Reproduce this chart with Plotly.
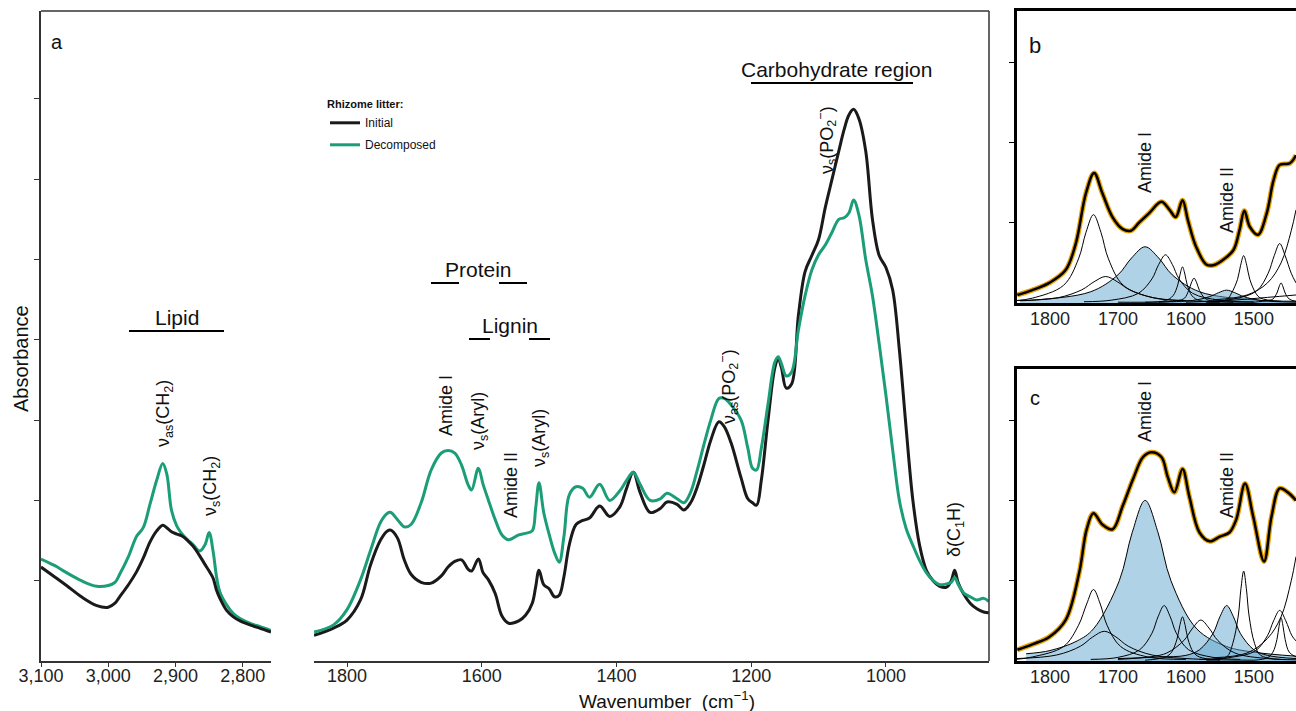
import plotly.graph_objects as go

W, H = 1296, 711
FONT = "Liberation Sans, Arial, sans-serif"
BLACK = "#1a1a1a"
GREEN = "#1b9e77"
ORANGE = "#E69F00"
FILL = "rgba(95,165,205,0.50)"

# ---------------- Panel a: lipid region (Absorbance, arbitrary units) ----------------
wn_lipid = [3100, 3080, 3062, 3040, 3017, 3000, 2990, 2983, 2970, 2958, 2948, 2938, 2928,
            2919, 2913, 2906, 2898, 2891, 2882, 2874, 2864, 2856, 2850, 2844, 2839, 2834,
            2824, 2814, 2804, 2786, 2775, 2758]
init_lipid = [1.17, 1.05, 0.94, 0.80, 0.69, 0.67, 0.72, 0.80, 0.95, 1.11, 1.28, 1.48, 1.62,
              1.69, 1.66, 1.61, 1.58, 1.56, 1.50, 1.43, 1.31, 1.20, 1.12, 1.03, 0.88, 0.78,
              0.63, 0.55, 0.50, 0.44, 0.41, 0.36]
decomp_lipid = [1.27, 1.19, 1.10, 1.00, 0.93, 0.94, 0.98, 1.08, 1.30, 1.55, 1.66, 1.95, 2.25,
                2.46, 2.33, 1.88, 1.68, 1.59, 1.51, 1.45, 1.37, 1.45, 1.60, 1.36, 1.05, 0.86,
                0.70, 0.59, 0.53, 0.46, 0.43, 0.38]

# ---------------- Panel a: fingerprint region ----------------
wn_fp = [1849, 1820, 1800, 1780, 1765, 1750, 1740, 1735, 1725, 1715, 1705, 1690, 1675, 1660,
         1650, 1640, 1630, 1620, 1615, 1605, 1598, 1590, 1580, 1570, 1560, 1545, 1535, 1525,
         1520, 1515, 1508, 1500, 1492, 1485, 1478, 1470, 1460, 1450, 1440, 1425, 1410, 1395,
         1385, 1375, 1365, 1350, 1335, 1325, 1310, 1300, 1290, 1280, 1270, 1260, 1248, 1240,
         1230, 1215, 1205, 1198, 1192, 1185, 1175, 1165, 1160, 1155, 1148, 1140, 1130, 1120,
         1110, 1100, 1090, 1080, 1070, 1062, 1055, 1048, 1040, 1030, 1020, 1010, 1000, 990,
         980, 970, 960, 950, 940, 930, 920, 910, 903, 898, 893, 885, 875, 865, 855, 847]
init_fp = [0.32, 0.41, 0.51, 0.76, 1.20, 1.51, 1.62, 1.63, 1.53, 1.26, 1.08, 0.98, 0.97, 1.06,
           1.17, 1.24, 1.26, 1.14, 1.12, 1.27, 1.10, 1.01, 0.84, 0.56, 0.47, 0.50, 0.57, 0.72,
           0.92, 1.13, 0.95, 0.90, 0.80, 0.82, 1.05, 1.45, 1.70, 1.75, 1.78, 1.93, 1.80, 1.92,
           2.15, 2.35, 2.10, 1.85, 1.90, 1.98, 1.95, 1.88, 1.97, 2.17, 2.45, 2.75, 2.98, 2.92,
           2.72, 2.28, 2.02, 1.97, 1.94, 2.25, 3.00, 3.65, 3.77, 3.65, 3.40, 3.45, 4.30, 4.85,
           5.05, 5.25, 5.65, 6.00, 6.35, 6.62, 6.80, 6.87, 6.75, 6.35, 5.50, 5.05, 4.90, 4.62,
           3.87, 2.90, 2.00, 1.44, 1.13, 1.00, 0.93, 0.92, 1.00, 1.13, 0.98, 0.84, 0.72, 0.65,
           0.61, 0.60]
decomp_fp = [0.36, 0.45, 0.64, 1.01, 1.38, 1.73, 1.84, 1.85, 1.76, 1.67, 1.70, 1.97, 2.38, 2.59,
             2.62, 2.59, 2.44, 2.19, 2.13, 2.40, 2.20, 2.00, 1.76, 1.57, 1.51, 1.57, 1.59, 1.62,
             1.90, 2.22, 1.85, 1.58, 1.35, 1.23, 1.55, 2.07, 2.17, 2.15, 2.04, 2.20, 2.00, 2.12,
             2.25, 2.35, 2.20, 2.00, 2.02, 2.09, 2.02, 1.97, 2.10, 2.38, 2.70, 3.00, 3.27, 3.27,
             3.19, 3.00, 2.65, 2.40, 2.38, 2.65, 3.20, 3.72, 3.79, 3.70, 3.55, 3.60, 4.12, 4.55,
             4.87, 5.06, 5.18, 5.34, 5.50, 5.52, 5.58, 5.74, 5.55, 5.00, 4.55, 3.95, 3.31, 2.63,
             2.00, 1.65, 1.44, 1.25, 1.10, 1.00, 0.95, 0.96, 0.98, 1.04, 0.96, 0.85, 0.80, 0.76,
             0.78, 0.74]

# ---------------- Panel b: baseline-corrected initial spectrum and its bands ----------------
wn_b = [1848, 1826, 1801, 1777, 1762, 1747, 1735, 1723, 1708, 1693, 1681, 1669, 1654, 1636,
        1624, 1615, 1605, 1597, 1585, 1570, 1560, 1545, 1530, 1521, 1514, 1506, 1494, 1481,
        1471, 1462, 1447, 1438]
init_b = [0.10, 0.16, 0.25, 0.41, 0.74, 1.37, 1.62, 1.37, 1.07, 0.92, 0.90, 1.00, 1.12, 1.26,
          1.16, 1.07, 1.28, 1.03, 0.70, 0.48, 0.47, 0.54, 0.66, 0.91, 1.15, 0.95, 0.85, 1.12,
          1.53, 1.72, 1.74, 1.84]
b_amide1_x = [1844, 1820, 1740, 1700, 1680, 1660, 1640, 1620, 1580, 1500, 1438]
b_amide1_y = [0.028, 0.039, 0.14, 0.35, 0.56, 0.70, 0.56, 0.35, 0.14, 0.039, 0.022]
b_amide2_x = [1700, 1640, 1590, 1565, 1552, 1540, 1528, 1515, 1490, 1438]
b_amide2_y = [0.01, 0.012, 0.032, 0.08, 0.128, 0.16, 0.128, 0.08, 0.032, 0.01]
b_1736_x = [1850, 1826, 1780, 1758, 1747, 1736, 1725, 1714, 1692, 1648, 1600]
b_1736_y = [0.03, 0.06, 0.22, 0.55, 0.88, 1.10, 0.88, 0.55, 0.22, 0.065, 0.03]
b_1718_x = [1850, 1788, 1753, 1735, 1718, 1701, 1683, 1648, 1588, 1500]
b_1718_y = [0.03, 0.066, 0.165, 0.265, 0.33, 0.265, 0.165, 0.066, 0.023, 0.01]
b_1630_x = [1750, 1710, 1670, 1650, 1640, 1630, 1620, 1610, 1590, 1550, 1500]
b_1630_y = [0.016, 0.035, 0.12, 0.30, 0.48, 0.60, 0.48, 0.30, 0.12, 0.035, 0.014]
b_1605_x = [1660, 1630, 1619, 1612, 1608.5, 1605, 1601.5, 1598, 1591, 1580, 1550]
b_1605_y = [0.01, 0.03, 0.09, 0.225, 0.36, 0.45, 0.36, 0.225, 0.09, 0.03, 0.01]
b_1588_x = [1640, 1612, 1602, 1596, 1592, 1588, 1584, 1580, 1572, 1564, 1530]
b_1588_y = [0.01, 0.03, 0.06, 0.155, 0.25, 0.31, 0.25, 0.155, 0.06, 0.03, 0.01]
b_1515_x = [1570, 1540, 1533, 1524, 1519.5, 1515, 1510.5, 1506, 1497, 1490, 1460]
b_1515_y = [0.01, 0.04, 0.12, 0.295, 0.47, 0.59, 0.47, 0.295, 0.12, 0.06, 0.02]
b_1462_x = [1580, 1530, 1496, 1479, 1470, 1462, 1454, 1445, 1438]
b_1462_y = [0.02, 0.05, 0.15, 0.37, 0.59, 0.74, 0.59, 0.37, 0.25]
b_1460_x = [1500, 1480, 1472, 1466, 1463, 1460, 1457, 1454, 1448, 1438]
b_1460_y = [0.01, 0.03, 0.05, 0.125, 0.20, 0.25, 0.20, 0.125, 0.05, 0.02]
b_1420_x = [1560, 1510, 1480, 1460, 1445, 1438]
b_1420_y = [0.04, 0.10, 0.25, 0.50, 0.90, 1.16]
b_broad_x = [1600, 1540, 1480, 1438]
b_broad_y = [0.01, 0.03, 0.07, 0.10]

# ---------------- Panel c: baseline-corrected decomposed spectrum and its bands ----------------
wn_c = [1848, 1825, 1801, 1777, 1757, 1746, 1736, 1723, 1708, 1693, 1678, 1663, 1651, 1636,
        1627, 1617, 1605, 1595, 1580, 1565, 1550, 1536, 1526, 1513, 1501, 1485, 1474, 1462,
        1450, 1438]
decomp_c = [0.14, 0.21, 0.30, 0.51, 1.10, 1.64, 1.84, 1.70, 1.64, 1.93, 2.26, 2.54, 2.60, 2.54,
            2.30, 2.10, 2.39, 2.05, 1.60, 1.49, 1.55, 1.60, 1.76, 2.21, 1.80, 1.24, 1.80, 2.15,
            2.10, 2.00]
c_amide1_x = [1835, 1800, 1760, 1736, 1698, 1679, 1660, 1641, 1622, 1584, 1540, 1500, 1438]
c_amide1_y = [0.09, 0.13, 0.25, 0.40, 1.00, 1.60, 2.00, 1.60, 1.00, 0.40, 0.18, 0.11, 0.06]
c_amide2_x = [1700, 1640, 1600, 1580, 1560, 1550, 1540, 1530, 1520, 1500, 1480, 1438]
c_amide2_y = [0.03, 0.05, 0.07, 0.14, 0.345, 0.55, 0.69, 0.55, 0.345, 0.14, 0.07, 0.03]
c_1736_x = [1850, 1826, 1780, 1758, 1746, 1736, 1726, 1716, 1696, 1656, 1600]
c_1736_y = [0.02, 0.05, 0.18, 0.445, 0.71, 0.89, 0.71, 0.445, 0.18, 0.05, 0.02]
c_1720_x = [1850, 1790, 1755, 1737, 1720, 1703, 1685, 1650, 1590, 1500]
c_1720_y = [0.03, 0.075, 0.185, 0.30, 0.37, 0.30, 0.185, 0.075, 0.026, 0.01]
c_1632_x = [1740, 1700, 1668, 1650, 1641, 1632, 1623, 1614, 1596, 1560, 1520]
c_1632_y = [0.02, 0.045, 0.14, 0.345, 0.55, 0.69, 0.55, 0.345, 0.14, 0.045, 0.02]
c_1605_x = [1660, 1630, 1621, 1613, 1609, 1605, 1601, 1597, 1589, 1580, 1550]
c_1605_y = [0.01, 0.05, 0.11, 0.275, 0.44, 0.55, 0.44, 0.275, 0.11, 0.05, 0.01]
c_1578_x = [1700, 1650, 1628, 1603, 1590, 1578, 1566, 1553, 1528, 1480, 1438]
c_1578_y = [0.02, 0.055, 0.10, 0.255, 0.41, 0.51, 0.41, 0.255, 0.10, 0.03, 0.015]
c_1515_x = [1570, 1540, 1531, 1523, 1519, 1515, 1511, 1507, 1499, 1490, 1460]
c_1515_y = [0.01, 0.05, 0.22, 0.56, 0.90, 1.12, 0.90, 0.56, 0.22, 0.07, 0.02]
c_1462_x = [1580, 1530, 1498, 1480, 1471, 1462, 1453, 1444, 1438]
c_1462_y = [0.02, 0.05, 0.125, 0.315, 0.50, 0.63, 0.50, 0.315, 0.25]
c_1460_x = [1500, 1480, 1472, 1466, 1463, 1460, 1457, 1454, 1448, 1438]
c_1460_y = [0.01, 0.04, 0.11, 0.27, 0.43, 0.54, 0.43, 0.27, 0.11, 0.05]
c_1420_x = [1560, 1510, 1480, 1460, 1445, 1438]
c_1420_y = [0.04, 0.10, 0.28, 0.55, 1.00, 1.30]

# tick labels
lipid_ticks = [3100, 3000, 2900, 2800]
lipid_ticktext = ["3,100", "3,000", "2,900", "2,800"]
fp_ticks = [1800, 1600, 1400, 1200, 1000]
bc_ticks = [1800, 1700, 1600, 1500, 1400]
abs_ticks = [1, 2, 3, 4, 5, 6, 7]
bc_abs_ticks = [1, 2, 3]


def px(x):
    return x / W


def py(y):
    return 1 - y / H


fig = go.Figure()

# ---- panel a traces ----
fig.add_trace(go.Scatter(x=wn_lipid, y=decomp_lipid, mode="lines", line=dict(color=GREEN, width=3, shape="spline"),
                         xaxis="x", yaxis="y", showlegend=False, hoverinfo="skip"))
fig.add_trace(go.Scatter(x=wn_lipid, y=init_lipid, mode="lines", line=dict(color=BLACK, width=3, shape="spline"),
                         xaxis="x", yaxis="y", showlegend=False, hoverinfo="skip"))
fig.add_trace(go.Scatter(x=wn_fp, y=init_fp, mode="lines", name="Initial", legendgroup="g1",
                         line=dict(color=BLACK, width=3, shape="spline"), xaxis="x2", yaxis="y2"))
fig.add_trace(go.Scatter(x=wn_fp, y=decomp_fp, mode="lines", name="Decomposed", legendgroup="g2",
                         line=dict(color=GREEN, width=3, shape="spline"), xaxis="x2", yaxis="y2"))


# ---- panels b, c ----
def add_panel(filled, lines, wn, total, xa, ya):
    for xs, ys in filled:
        fig.add_trace(go.Scatter(x=xs, y=ys, mode="lines", fill="tozeroy", fillcolor=FILL,
                                 line=dict(color="black", width=1, shape="spline"),
                                 xaxis=xa, yaxis=ya, showlegend=False, hoverinfo="skip"))
    for xs, ys in lines:
        fig.add_trace(go.Scatter(x=xs, y=ys, mode="lines",
                                 line=dict(color="black", width=1, shape="spline"),
                                 xaxis=xa, yaxis=ya, showlegend=False, hoverinfo="skip"))
    fig.add_trace(go.Scatter(x=wn, y=total, mode="lines", line=dict(color=ORANGE, width=5, shape="spline"),
                             xaxis=xa, yaxis=ya, showlegend=False, hoverinfo="skip"))
    fig.add_trace(go.Scatter(x=wn, y=total, mode="lines", line=dict(color="black", width=2.5, shape="spline"),
                             xaxis=xa, yaxis=ya, showlegend=False, hoverinfo="skip"))


add_panel([(b_amide1_x, b_amide1_y), (b_amide2_x, b_amide2_y)],
          [(b_1736_x, b_1736_y), (b_1718_x, b_1718_y), (b_1630_x, b_1630_y), (b_1605_x, b_1605_y),
           (b_1588_x, b_1588_y), (b_1515_x, b_1515_y), (b_1462_x, b_1462_y), (b_1460_x, b_1460_y),
           (b_1420_x, b_1420_y), (b_broad_x, b_broad_y)],
          wn_b, init_b, "x3", "y3")
add_panel([(c_amide1_x, c_amide1_y), (c_amide2_x, c_amide2_y)],
          [(c_1736_x, c_1736_y), (c_1720_x, c_1720_y), (c_1632_x, c_1632_y), (c_1605_x, c_1605_y),
           (c_1578_x, c_1578_y), (c_1515_x, c_1515_y), (c_1462_x, c_1462_y), (c_1460_x, c_1460_y),
           (c_1420_x, c_1420_y)],
          wn_c, decomp_c, "x4", "y4")

tickfont = dict(family=FONT, size=18, color="#222")
a_axis = dict(showline=True, linecolor="#333", linewidth=1.5, ticks="outside", ticklen=4,
              tickcolor="#333", tickwidth=1.2, showgrid=False, zeroline=False, tickfont=tickfont,
              automargin=False)
bc_x = dict(showline=True, linecolor="black", linewidth=2.5, mirror=True, ticks="", showgrid=False,
            zeroline=False, tickfont=tickfont, range=[1848.5, 1438], tickvals=bc_ticks, automargin=False,
            ticklabelstandoff=-2)
bc_y = dict(showline=True, linecolor="black", linewidth=2.5, ticks="outside", ticklen=5, tickcolor="black",
            showgrid=False, zeroline=False, showticklabels=False, tickvals=bc_abs_ticks, automargin=False)

ya_dom = [py(661), py(11)]
yb_dom = [py(303), py(11)]
yc_dom = [py(661), py(369)]
a_yrange = [0, 650 / 80.3]

fig.update_layout(
    width=W, height=H, margin=dict(l=0, r=0, t=0, b=0, autoexpand=False),
    paper_bgcolor="white", plot_bgcolor="white",
    font=dict(family=FONT, color="#222"),
    xaxis=dict(a_axis, domain=[px(41), px(271)], range=[3100, 2758], tickvals=lipid_ticks,
               ticktext=lipid_ticktext, anchor="y", ticklabelstandoff=-6),
    yaxis=dict(a_axis, domain=ya_dom, range=a_yrange, tickvals=abs_ticks, showticklabels=False,
               anchor="x", ticklen=5),
    xaxis2=dict(a_axis, domain=[px(314), px(989)], range=[1849, 847], tickvals=fp_ticks, anchor="y2",
                ticklabelstandoff=-6),
    yaxis2=dict(domain=ya_dom, range=a_yrange, visible=False, anchor="x2", automargin=False),
    xaxis3=dict(bc_x, domain=[px(1017), 1], anchor="y3"),
    yaxis3=dict(bc_y, domain=yb_dom, range=[0, 292 / 80.3], anchor="x3"),
    xaxis4=dict(bc_x, domain=[px(1017), 1], anchor="y4"),
    yaxis4=dict(bc_y, domain=yc_dom, range=[0, 292 / 80.3], anchor="x4"),
    legend=dict(x=px(325), y=py(94), xanchor="left", yanchor="top", bgcolor="rgba(0,0,0,0)",
                title=dict(text="<b>Rhizome litter:</b>", font=dict(size=11, family=FONT, color="#111")),
                font=dict(size=12, family=FONT, color="#111"), itemwidth=30, tracegroupgap=3),
)

# frame of panel a (top and right edges)
shapes = [
    dict(type="line", xref="paper", yref="paper", x0=px(41), x1=px(989), y0=py(11), y1=py(11),
         line=dict(color="#333", width=1.5)),
    dict(type="line", xref="paper", yref="paper", x0=px(989), x1=px(989), y0=py(11), y1=py(661),
         line=dict(color="#333", width=1.5)),
]
# group bars under headings
for x0, x1, y in [(129, 224, 331), (431, 459, 283), (499, 527, 283), (469, 490, 339), (529, 550, 339),
                  (751, 913, 83)]:
    shapes.append(dict(type="line", xref="paper", yref="paper", x0=px(x0), x1=px(x1), y0=py(y), y1=py(y),
                       line=dict(color="black", width=2)))
fig.update_layout(shapes=shapes)


def ann(text, x, y, size, angle=0, xanchor="center"):
    fig.add_annotation(text=text, x=px(x), y=py(y), xref="paper", yref="paper", showarrow=False,
                       textangle=angle, xanchor=xanchor, yanchor="middle",
                       font=dict(family=FONT, size=size, color="#111"))


ann("a", 57, 42, 20)
ann("b", 1035, 45, 22)
ann("c", 1035, 398, 20)
ann("Lipid", 177, 317, 21)
ann("Protein", 479, 269, 21)
ann("Lignin", 510, 325, 21)
ann("Carbohydrate region", 836, 69, 21)
ann("ν<sub>as</sub>(CH<sub>2</sub>)", 164, 414, 18, -90)
ann("ν<sub>s</sub>(CH<sub>2</sub>)", 211, 486, 18, -90)
ann("Amide I", 446, 405, 18, -90)
ann("ν<sub>s</sub>(Aryl)", 480, 421, 18, -90)
ann("Amide II", 511, 485, 18, -90)
ann("ν<sub>s</sub>(Aryl)", 540, 438, 18, -90)
ann("ν<sub>as</sub>(PO<sub>2</sub><sup>−</sup>)", 728, 387, 18, -90)
ann("ν<sub>s</sub>(PO<sub>2</sub><sup>−</sup>)", 827, 140, 18, -90)
ann("δ(C<sub>1</sub>H)", 955, 530, 18, -90)
ann("Amide I", 1145, 163, 18, -90)
ann("Amide II", 1227, 200, 18, -90)
ann("Amide I", 1145, 412, 18, -90)
ann("Amide II", 1227, 485, 18, -90)
ann("Absorbance", 21, 359, 20, -90)
ann("Wavenumber  (cm<sup>−1</sup>)", 667, 700, 19)

fig.write_html("out.html")
